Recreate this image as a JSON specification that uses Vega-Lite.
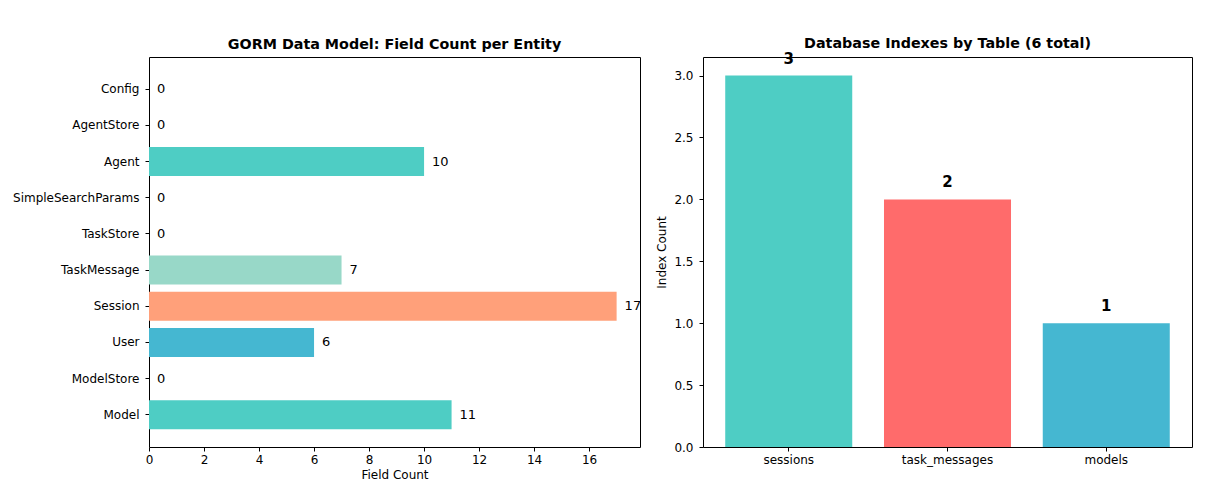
{
  "$schema": "https://vega.github.io/schema/vega-lite/v6.json",
  "background": "white",
  "padding": {"left": 12, "top": 36, "right": 5, "bottom": 5},
  "config": {
    "font": "DejaVu Sans",
    "view": {"stroke": "black", "strokeWidth": 1},
    "axis": {
      "grid": false,
      "domain": false,
      "tickColor": "black",
      "tickSize": 4,
      "tickWidth": 1,
      "labelFont": "DejaVu Sans",
      "labelFontSize": 12,
      "labelColor": "black",
      "labelFlush": false,
      "titleFont": "DejaVu Sans",
      "titleFontSize": 12,
      "titleFontWeight": "normal",
      "titleColor": "black"
    },
    "axisX": {"labelPadding": 3, "titlePadding": 4},
    "axisY": {"labelPadding": 6, "titlePadding": 5},
    "title": {
      "font": "DejaVu Sans",
      "fontSize": 14.3,
      "fontWeight": "bold",
      "color": "black",
      "anchor": "middle",
      "frame": "group"
    }
  },
  "spacing": 63,
  "bounds": "flush",
  "resolve": {"scale": {"color": "independent"}},
  "hconcat": [
    {
      "width": 491,
      "height": 390,
      "title": {"text": "GORM Data Model: Field Count per Entity", "offset": 5},
      "data": {
        "values": [
          {"entity": "Model", "fields": 11},
          {"entity": "ModelStore", "fields": 0},
          {"entity": "User", "fields": 6},
          {"entity": "Session", "fields": 17},
          {"entity": "TaskMessage", "fields": 7},
          {"entity": "TaskStore", "fields": 0},
          {"entity": "SimpleSearchParams", "fields": 0},
          {"entity": "Agent", "fields": 10},
          {"entity": "AgentStore", "fields": 0},
          {"entity": "Config", "fields": 0}
        ]
      },
      "encoding": {
        "y": {
          "field": "entity",
          "type": "nominal",
          "sort": ["Config", "AgentStore", "Agent", "SimpleSearchParams", "TaskStore", "TaskMessage", "Session", "User", "ModelStore", "Model"],
          "scale": {"paddingInner": 0.2, "paddingOuter": 0.49},
          "axis": {"title": null}
        },
        "x": {
          "field": "fields",
          "type": "quantitative",
          "scale": {"domain": [0, 17.85], "nice": false},
          "axis": {"values": [0, 2, 4, 6, 8, 10, 12, 14, 16], "title": "Field Count"}
        }
      },
      "layer": [
        {
          "mark": {"type": "bar"},
          "encoding": {
            "color": {
              "field": "entity",
              "type": "nominal",
              "scale": {
                "domain": ["Model", "ModelStore", "User", "Session", "TaskMessage", "TaskStore", "SimpleSearchParams", "Agent", "AgentStore", "Config"],
                "range": ["#4ECDC4", "#FF6B6B", "#45B7D1", "#FFA07A", "#98D8C8", "#F7DC6F", "#BB8FCE", "#4ECDC4", "#FF6B6B", "#45B7D1"]
              },
              "legend": null
            }
          }
        },
        {
          "mark": {"type": "text", "align": "left", "baseline": "middle", "dx": 8, "fontSize": 13, "color": "black"},
          "encoding": {"text": {"field": "fields", "type": "quantitative"}}
        }
      ]
    },
    {
      "width": 489,
      "height": 390,
      "title": {"text": "Database Indexes by Table (6 total)", "offset": 0},
      "data": {
        "values": [
          {"table": "sessions", "indexes": 3},
          {"table": "task_messages", "indexes": 2},
          {"table": "models", "indexes": 1}
        ]
      },
      "encoding": {
        "x": {
          "field": "table",
          "type": "nominal",
          "sort": null,
          "scale": {"paddingInner": 0.2, "paddingOuter": 0.14},
          "axis": {"title": null, "labelAngle": 0}
        },
        "y": {
          "field": "indexes",
          "type": "quantitative",
          "scale": {"domain": [0, 3.15], "nice": false},
          "axis": {"values": [0, 0.5, 1, 1.5, 2, 2.5, 3], "format": ".1f", "title": "Index Count"}
        }
      },
      "layer": [
        {
          "mark": {"type": "bar"},
          "encoding": {
            "color": {
              "field": "table",
              "type": "nominal",
              "scale": {
                "domain": ["sessions", "task_messages", "models"],
                "range": ["#4ECDC4", "#FF6B6B", "#45B7D1"]
              },
              "legend": null
            }
          }
        },
        {
          "mark": {"type": "text", "baseline": "bottom", "dy": -9, "fontSize": 15, "fontWeight": "bold", "color": "black"},
          "encoding": {"text": {"field": "indexes", "type": "quantitative"}}
        }
      ]
    }
  ]
}
